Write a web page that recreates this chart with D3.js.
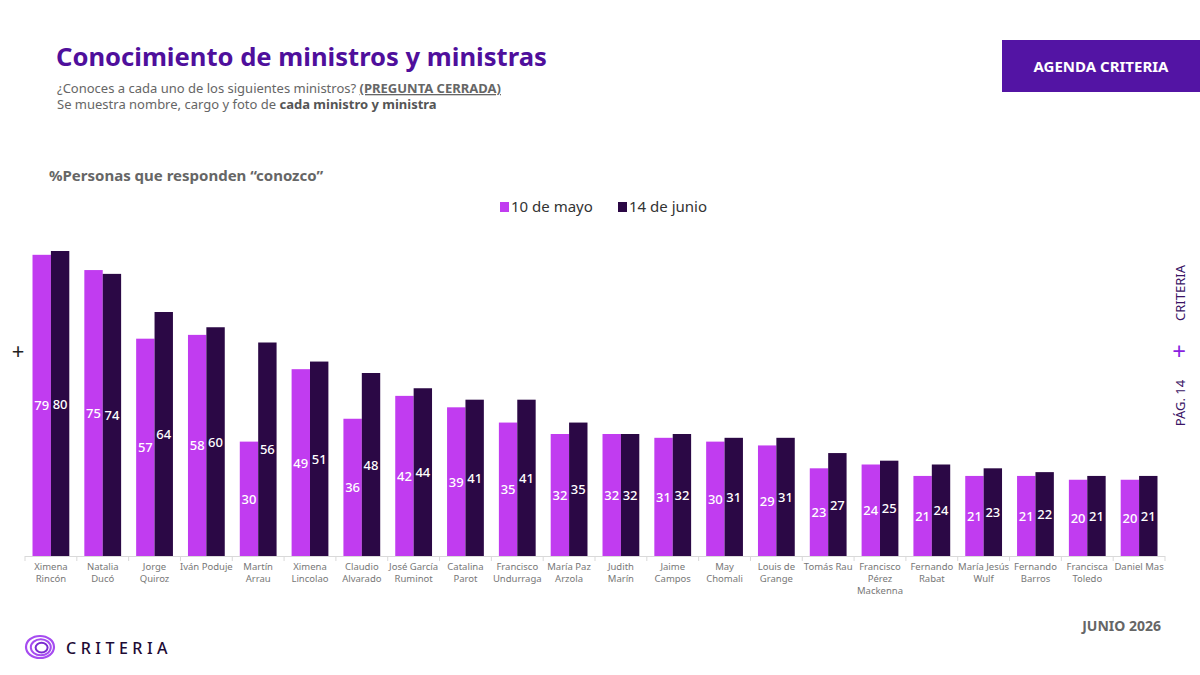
<!DOCTYPE html>
<html>
<head>
<meta charset="utf-8">
<script src="https://cdn.jsdelivr.net/npm/d3@7"></script>
<style>
  body { margin: 0; background: #fff; }
  svg { display: block; font-family: "Noto Sans", "Open Sans", sans-serif; }
</style>
</head>
<body>
<svg id="viz-container" width="1200" height="675"></svg>
<script>
// categories (| marks a line break in the axis label)
var ministros = ["Ximena|Rincón", "Natalia|Ducó", "Jorge|Quiroz", "Iván Poduje", "Martín|Arrau",
  "Ximena|Lincolao", "Claudio|Alvarado", "José García|Ruminot", "Catalina|Parot", "Francisco|Undurraga",
  "María Paz|Arzola", "Judith|Marín", "Jaime|Campos", "May|Chomali", "Louis de|Grange", "Tomás Rau",
  "Francisco|Pérez|Mackenna", "Fernando|Rabat", "María Jesús|Wulf", "Fernando|Barros", "Francisca|Toledo",
  "Daniel Mas"];

var series = ["10 de mayo", "14 de junio"];

var mayo = [79, 75, 57, 58, 30, 49, 36, 42, 39, 35, 32, 32, 31, 30, 29, 23, 24, 21, 21, 21, 20, 20];
var junio = [80, 74, 64, 60, 56, 51, 48, 44, 41, 41, 35, 32, 32, 31, 31, 27, 25, 24, 23, 22, 21, 21];

var colors = ["#c13cf0", "#2b0845"];

var svg = d3.select("#viz-container");

// header
svg.append("text")
  .attr("x", 56).attr("y", 66)
  .style("font-size", "25.6px").style("font-weight", 700)
  .style("fill", "#4f0f9c")
  .text("Conocimiento de ministros y ministras");

var sub1 = svg.append("text")
  .attr("x", 57).attr("y", 93)
  .style("font-size", "13px").style("fill", "#666");
sub1.append("tspan").text("¿Conoces a cada uno de los siguientes ministros? ");
sub1.append("tspan").style("font-weight", 700).style("text-decoration", "underline")
  .text("(PREGUNTA CERRADA)");

var sub2 = svg.append("text")
  .attr("x", 57).attr("y", 109)
  .style("font-size", "13px").style("fill", "#666");
sub2.append("tspan").text("Se muestra nombre, cargo y foto de ");
sub2.append("tspan").style("font-weight", 700).style("fill", "#555").text("cada ministro y ministra");

// agenda box
svg.append("rect")
  .attr("x", 1002).attr("y", 40).attr("width", 198).attr("height", 52)
  .style("fill", "#5314a4");
svg.append("text")
  .attr("x", 1101).attr("y", 72).attr("text-anchor", "middle")
  .style("font-size", "15px").style("font-weight", 700).style("fill", "#fff")
  .text("AGENDA CRITERIA");

svg.append("text")
  .attr("x", 49).attr("y", 181)
  .style("font-size", "15px").style("font-weight", 700).style("fill", "#666")
  .text("%Personas que responden “conozco”");

// legend
var legend = svg.append("g").selectAll(".leg")
  .data(series)
 .enter().append("g")
  .attr("transform", (d, i) => "translate(" + (500 + i * 118) + ",0)");
legend.append("rect")
  .attr("x", 0).attr("y", 202).attr("width", 9).attr("height", 10)
  .style("fill", (d, i) => colors[i]);
legend.append("text")
  .attr("x", 11).attr("y", 212)
  .style("font-size", "15px").style("fill", "#333")
  .text(d => d);

// scales
var x0 = d3.scaleBand()
  .domain(ministros)
  .range([25, 1165])
  .paddingInner(0.29)
  .paddingOuter(0.145);

var x1 = d3.scaleBand()
  .domain(series)
  .range([0, x0.bandwidth()]);

var y = d3.scaleLinear()
  .domain([0, 80])
  .range([556, 251]);

// axis line and boundary ticks
var axis = svg.append("g").attr("id", "axis");
axis.append("line")
  .attr("x1", 25).attr("x2", 1165).attr("y1", y(0) + 0.5).attr("y2", y(0) + 0.5)
  .style("stroke", "#d9d9d9");
axis.selectAll(".tick")
  .data(d3.range(ministros.length + 1))
 .enter().append("line")
  .attr("x1", i => 25 + i * x0.step()).attr("x2", i => 25 + i * x0.step())
  .attr("y1", y(0)).attr("y2", y(0) + 5)
  .style("stroke", "#d9d9d9");

axis.selectAll(".label")
  .data(ministros)
 .enter().append("text")
  .attr("text-anchor", "middle")
  .attr("x", d => x0(d) + x0.bandwidth() / 2)
  .attr("y", 570)
  .style("font-size", "9.5px").style("fill", "#777")
  .each(function(d) {
    var t = d3.select(this);
    d.split("|").forEach(function(line, j) {
      t.append("tspan")
        .attr("x", x0(d) + x0.bandwidth() / 2)
        .attr("dy", j ? 12 : 0)
        .text(line);
    });
  });

// bars
var rows = ministros.map((m, i) => ({ name: m, values: [mayo[i], junio[i]] }));

var groups = svg.append("g").attr("id", "bars")
  .selectAll(".group")
  .data(rows)
 .enter().append("g")
  .attr("transform", d => "translate(" + x0(d.name) + ",0)");

groups.selectAll("rect")
  .data(d => d.values.map((v, i) => ({ s: series[i], v: v, i: i })))
 .enter().append("rect")
  .attr("x", d => x1(d.s))
  .attr("y", d => y(d.v))
  .attr("width", x1.bandwidth())
  .attr("height", d => y(0) - y(d.v))
  .style("fill", d => colors[d.i]);

groups.selectAll(".val")
  .data(d => d.values.map((v, i) => ({ s: series[i], v: v, i: i })))
 .enter().append("text")
  .attr("text-anchor", "middle")
  .attr("x", d => x1(d.s) + x1.bandwidth() / 2)
  .attr("y", d => (y(d.v) + y(0)) / 2 + 5)
  .style("font-size", "13px").style("font-weight", 500).style("fill", "#fff")
  .text(d => d.v);

// decorations
svg.append("text")
  .attr("x", 18).attr("y", 359).attr("text-anchor", "middle")
  .style("font-size", "22px").style("fill", "#222")
  .text("+");

var side = svg.append("g").attr("transform", "translate(1185,0)");
side.append("text")
  .attr("transform", "translate(0,293) rotate(-90)")
  .attr("text-anchor", "middle")
  .style("font-size", "13px").style("fill", "#3b1466")
  .text("CRITERIA");
side.append("text")
  .attr("transform", "translate(-6,352)")
  .attr("text-anchor", "middle").attr("dy", 8)
  .style("font-size", "24px").style("fill", "#8a1fe0")
  .text("+");
side.append("text")
  .attr("transform", "translate(0,403) rotate(-90)")
  .attr("text-anchor", "middle")
  .style("font-size", "13px").style("fill", "#3b1466")
  .text("PÁG. 14");

svg.append("text")
  .attr("x", 1161).attr("y", 631).attr("text-anchor", "end")
  .style("font-size", "14px").style("font-weight", 700).style("fill", "#666")
  .text("JUNIO 2026");

// logo
var logo = svg.append("g").attr("transform", "translate(40,647)");
[[14, 11, 2.2], [10, 8, 2], [6, 4.8, 2]].forEach(function(e, i) {
  logo.append("ellipse")
    .attr("cx", i * 0.8).attr("cy", i * 0.3)
    .attr("rx", e[0]).attr("ry", e[1])
    .style("fill", "none").style("stroke", i === 2 ? "#7a2ad0" : "#a64cf0")
    .style("stroke-width", e[2]);
});
svg.append("text")
  .attr("x", 66).attr("y", 654)
  .style("font-size", "16px").style("letter-spacing", "4.5px")
  .style("fill", "#1e0b35").style("font-weight", 500)
  .text("CRITERIA");
</script>
</body>
</html>
